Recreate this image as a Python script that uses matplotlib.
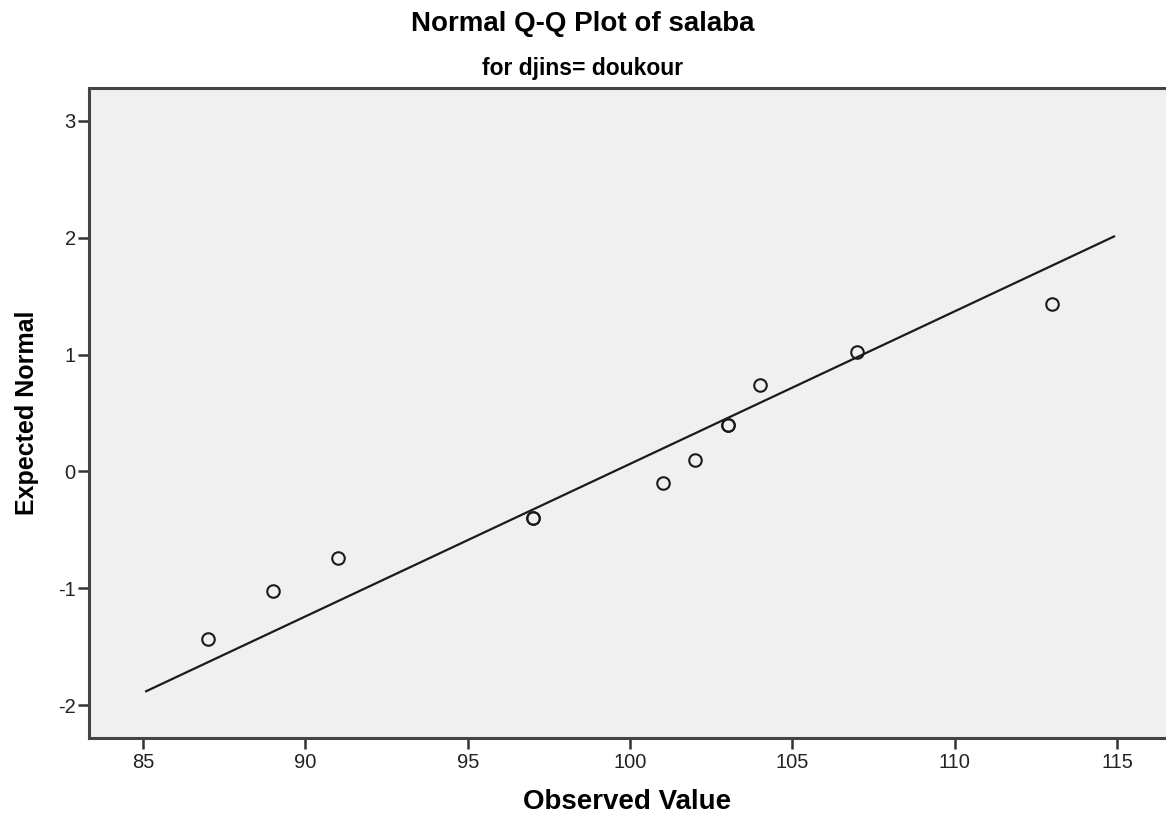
import matplotlib.pyplot as plt

plt.rcParams['font.family'] = ['Liberation Sans', 'DejaVu Sans']
plt.rcParams['axes.unicode_minus'] = False

# observed values and their expected normal scores
observed = [87, 89, 91, 97, 97, 101, 102, 103, 103, 104, 107, 113]
expected = [-1.43, -1.02, -0.74, -0.40, -0.40, -0.10, 0.10, 0.40, 0.40, 0.74, 1.02, 1.43]

# reference line end points
line_x = [85.1, 114.9]
line_y = [-1.88, 2.01]

x_ticks = [85, 90, 95, 100, 105, 110, 115]
y_ticks = [-2, -1, 0, 1, 2, 3]

fig = plt.figure(figsize=(11.66, 8.14), dpi=100)
ax = fig.add_axes([89/1166, 76/814, 1 - 89/1166, 650/814])
ax.set_facecolor('#F0F0F0')

ax.plot(line_x, line_y, color='#1a1a1a', linewidth=1.6)
ax.plot(observed, expected, 'o', markersize=9, markerfacecolor='none',
        markeredgecolor='#1a1a1a', markeredgewidth=1.5)

ax.set_xlim(83.34, 116.5)
ax.set_ylim(-2.28, 3.28)
ax.set_xticks(x_ticks)
ax.set_yticks(y_ticks)
ax.tick_params(direction='out', length=8, width=1.8, color='#333333',
               labelsize=14.5, labelcolor='#222222')
ax.tick_params(axis='x', pad=3)
ax.tick_params(axis='y', pad=1.5)

for s in ['left', 'bottom', 'top']:
    ax.spines[s].set_color('#444444')
    ax.spines[s].set_linewidth(2.2)
ax.spines['right'].set_visible(False)

ax.set_xlabel('Observed Value', fontsize=20, fontweight='bold', labelpad=12)
ax.set_ylabel('Expected Normal', fontsize=18, fontweight='bold', labelpad=14)

fig.text(0.5, 1 - 31/814, 'Normal Q-Q Plot of salaba', ha='center', va='baseline',
         fontsize=20, fontweight='bold')
fig.text(0.5, 1 - 75/814, 'for djins= doukour', ha='center', va='baseline',
         fontsize=16.5, fontweight='bold')

fig.savefig('out.png', dpi=100)
